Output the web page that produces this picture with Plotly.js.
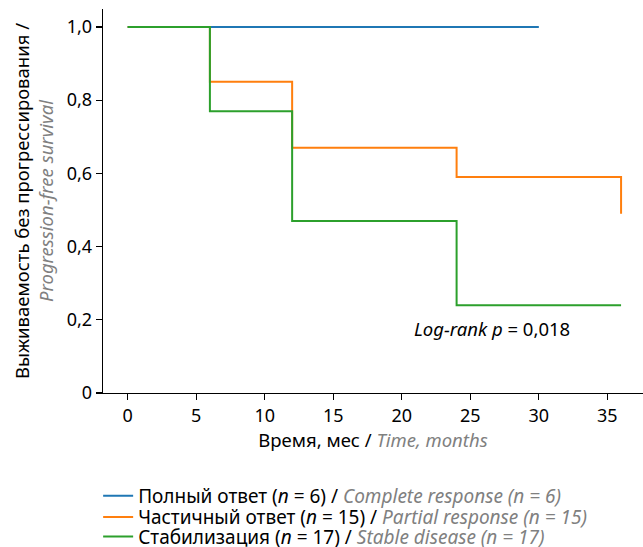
<!DOCTYPE html>
<html>
<head>
<meta charset="utf-8">
<script src="https://cdn.plot.ly/plotly-3.0.1.min.js"></script>
<style>html,body{margin:0;padding:0;background:#fff;}#chart{width:643px;height:547px;}</style>
</head>
<body>
<div id="chart"></div>
<script>
// Kaplan–Meier step data
const completeTime = [0, 30];
const completeSurv = [1.0, 1.0];
const partialTime = [0, 6, 12, 24, 36];
const partialSurv = [1.0, 0.85, 0.67, 0.59, 0.49];
const stableTime = [0, 6, 12, 24, 36];
const stableSurv = [1.0, 0.77, 0.47, 0.24, 0.24];

const xTicks = [0, 5, 10, 15, 20, 25, 30, 35];
const yTicks = [0, 0.2, 0.4, 0.6, 0.8, 1.0];
const yTickText = ['0', '0,2', '0,4', '0,6', '0,8', '1,0'];

const seriesNames = [
  'Полный ответ (<i>n</i> = 6) / <span style="color:#808080"><i>Complete response (n = 6)</i></span>',
  'Частичный ответ (<i>n</i> = 15) / <span style="color:#808080"><i>Partial response (n = 15)</i></span>',
  'Стабилизация (<i>n</i> = 17) / <span style="color:#808080"><i>Stable disease (n = 17)</i></span>'
];
const colors = ['#1f77b4', '#ff7f0e', '#2ca02c'];
const legendIds = ['legend', 'legend2', 'legend3'];

const traces = [
  {x: completeTime, y: completeSurv, name: seriesNames[0]},
  {x: partialTime, y: partialSurv, name: seriesNames[1]},
  {x: stableTime, y: stableSurv, name: seriesNames[2]}
].map((t, i) => ({
  x: t.x,
  y: t.y,
  name: t.name,
  type: 'scatter',
  mode: 'lines',
  legend: legendIds[i],
  line: {shape: 'hv', color: colors[i], width: 2},
  hoverinfo: 'skip'
}));

const FONT = 'Noto Sans, sans-serif';
const legendRowY = [-0.268, -0.323, -0.374];

function legendBox(yPos) {
  return {
    x: -0.009, xanchor: 'left',
    y: yPos, yanchor: 'middle',
    bgcolor: 'rgba(0,0,0,0)',
    borderwidth: 0,
    font: {family: FONT, size: 19, color: '#000'},
    itemclick: false
  };
}

const layout = {
  width: 643,
  height: 547,
  margin: {l: 103, r: 0, t: 9, b: 154, autoexpand: false},
  paper_bgcolor: '#fff',
  plot_bgcolor: '#fff',
  font: {family: FONT, size: 18, color: '#000'},
  showlegend: true,
  legend: legendBox(legendRowY[0]),
  legend2: legendBox(legendRowY[1]),
  legend3: legendBox(legendRowY[2]),
  xaxis: {
    range: [-1.8, 37.6],
    tickvals: xTicks,
    ticktext: xTicks.map(String),
    showline: true, linecolor: '#000', linewidth: 1.3,
    mirror: false,
    ticks: 'outside', ticklen: 6, tickwidth: 1.2, tickcolor: '#000',
    showgrid: false, zeroline: false,
    tickfont: {family: FONT, size: 18, color: '#000'},
    title: {
      text: 'Время, мес / <span style="color:#808080"><i>Time, months</i></span>',
      font: {family: FONT, size: 18.5, color: '#000'},
      standoff: 7
    }
  },
  yaxis: {
    range: [0, 1.049],
    tickvals: yTicks,
    ticktext: yTickText,
    showline: true, linecolor: '#000', linewidth: 1.3,
    mirror: false,
    ticks: 'outside', ticklen: 6, tickwidth: 1.2, tickcolor: '#000',
    showgrid: false, zeroline: false,
    tickfont: {family: FONT, size: 18, color: '#000'},
    title: {
      text: 'Выживаемость без прогрессирования /<br><span style="color:#808080"><i>Progression-free survival</i></span>',
      font: {family: FONT, size: 18.5, color: '#000'},
      standoff: 8
    }
  },
  annotations: [{
    x: 26.6, y: 0.175, xref: 'x', yref: 'y',
    text: '<i>Log-rank p</i> = 0,018',
    showarrow: false,
    font: {family: FONT, size: 18.5, color: '#000'},
    xanchor: 'center', yanchor: 'middle'
  }]
};

Plotly.newPlot('chart', traces, layout, {displayModeBar: false, staticPlot: true});
</script>
</body>
</html>
